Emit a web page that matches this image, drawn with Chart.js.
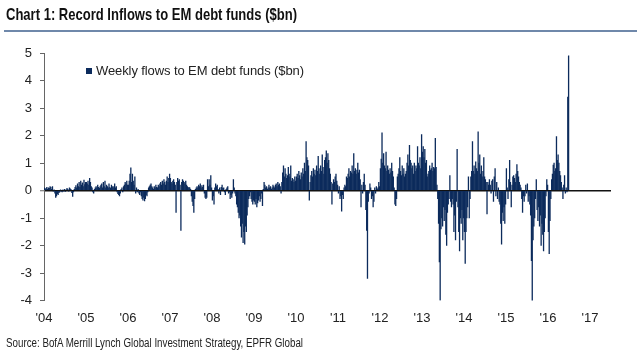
<!DOCTYPE html>
<html><head><meta charset="utf-8">
<script src="https://cdn.jsdelivr.net/npm/chart.js@4.4.1/dist/chart.umd.min.js"></script>
<style>
html,body{margin:0;padding:0;background:#fff;}
#wrap{position:relative;width:640px;height:364px;overflow:hidden;background:#fff;}
canvas{position:absolute;left:0;top:0;}
#title{position:absolute;left:6px;top:5px;font-family:"Liberation Sans",Arial,sans-serif;font-weight:bold;font-size:17px;color:#111;white-space:nowrap;transform-origin:0 0;}
#rule{position:absolute;left:4px;top:30px;width:633px;height:2px;background:#6f88aa;}
#source{position:absolute;left:6px;top:336px;font-family:"Liberation Sans",Arial,sans-serif;font-size:12.5px;color:#222;white-space:nowrap;transform-origin:0 0;}
#legend{position:absolute;left:86px;top:63px;font-family:"Liberation Sans",Arial,sans-serif;font-size:13px;color:#222;white-space:nowrap;letter-spacing:-0.1px;}
#legend span.sw{display:inline-block;width:6px;height:6px;margin-right:4px;vertical-align:1px;}
</style>
</head><body>
<div id="wrap">
<canvas id="c" width="640" height="364"></canvas>
<div id="title">Chart 1: Record Inflows to EM debt funds ($bn)</div>
<div id="rule"></div>
<div id="legend"></div>
<div id="source">Source: BofA Merrill Lynch Global Investment Strategy, EPFR Global</div>
</div>
<script>
// Weekly flows to EM debt funds ($bn), one array per year
const flows2004 = [0.10,0.05,0.08,0.12,0.05,0.10,0.08,0.15,
 0.12,0.05,0.15,-0.03,0.02,-0.10,-0.25,-0.20,
 -0.12,-0.15,-0.08,-0.05,0.02,-0.03,-0.05,0.03,
 -0.02,0.05,-0.04,0.03,0.08,0.05,-0.02,0.10,
 0.06,0.04,-0.08,-0.22,-0.05,0.05,0.12,0.18,
 0.10,0.25,0.15,0.30,0.12,0.35,0.20,0.28,
 0.15,0.38,0.22,0.30];
const flows2005 = [0.30,0.25,0.35,0.20,0.45,0.30,0.15,0.10,
 -0.05,-0.10,0.05,0.10,0.15,0.10,0.20,0.12,
 0.08,0.15,0.20,0.25,0.10,0.30,0.15,0.35,
 0.10,0.20,0.15,0.10,0.25,0.12,0.08,0.20,
 0.15,0.10,0.15,0.25,0.10,0.15,-0.05,-0.12,
 -0.15,-0.20,-0.10,0.05,0.10,-0.05,0.15,0.20,
 0.30,0.25,0.35,0.20];
const flows2006 = [0.20,0.35,0.60,0.83,0.30,0.60,0.35,0.20,
 0.50,-0.10,0.10,-0.05,0.05,-0.10,-0.15,-0.05,
 -0.20,-0.30,-0.35,-0.25,-0.38,-0.30,-0.15,-0.20,
 -0.05,0.10,0.15,0.20,0.25,0.15,0.10,0.05,
 0.15,0.10,0.20,0.12,0.10,0.20,0.15,0.25,
 0.30,0.20,0.35,0.25,0.40,0.30,0.20,0.35,
 0.50,0.30,0.45,0.60];
const flows2007 = [0.45,0.30,0.25,0.35,0.40,0.30,0.20,-0.80,
 0.30,0.45,0.35,0.40,0.20,-1.45,0.30,0.40,
 0.35,0.30,0.25,0.35,0.20,0.15,0.10,0.12,
 0.10,0.05,-0.20,-0.40,-0.55,-0.80,-0.30,0.05,
 0.10,0.15,0.10,0.20,0.15,0.25,0.10,0.18,
 0.12,0.20,-0.10,-0.25,-0.30,-0.25,0.40,0.15,
 0.40,0.20,0.55,0.10];
const flows2008 = [-0.35,-0.20,-0.50,0.10,0.25,0.15,0.20,0.05,
 -0.10,0.10,-0.15,0.12,0.20,0.08,0.10,-0.05,
 -0.15,0.05,0.10,0.15,-0.10,-0.05,-0.30,-0.15,
 -0.25,-0.10,0.40,0.10,-0.10,-0.20,-0.50,-0.60,
 -0.80,-1.00,-0.90,-1.30,-1.70,-1.20,-1.90,-1.50,
 -1.95,-1.30,-1.50,-0.90,-0.60,-0.30,-0.20,-0.05,
 -0.30,-0.40,-0.50,-0.35];
const flows2009 = [-0.40,-0.50,-0.30,-0.60,-0.45,-0.35,-0.20,-0.40,
 -0.30,-0.10,-0.55,0.05,0.30,0.20,0.10,0.15,
 0.05,0.10,0.20,0.10,0.15,0.05,0.10,0.20,
 0.15,0.10,0.20,0.25,0.15,0.30,0.20,0.25,
 0.15,-0.10,0.30,0.65,0.90,0.50,0.80,0.60,
 0.45,0.55,0.85,0.60,0.50,0.90,0.35,0.45,
 0.40,0.30,0.50,0.35];
const flows2010 = [0.50,0.60,0.45,0.70,0.55,0.40,0.65,0.50,
 0.80,0.60,1.00,0.70,1.78,1.20,1.10,0.90,
 -0.35,0.30,0.55,0.70,0.50,0.80,0.60,0.75,
 0.55,0.90,0.70,1.25,0.80,0.60,0.90,0.70,
 1.30,0.85,0.60,1.10,1.20,1.45,1.00,1.35,
 1.10,0.80,0.60,0.30,-0.50,0.25,0.40,0.30,
 0.50,0.60,0.35,0.20];
const flows2011 = [-0.10,0.15,-0.30,-0.20,-0.75,-0.15,-0.30,0.10,
 0.20,0.15,0.50,0.45,0.60,0.80,0.50,0.70,
 0.65,0.90,0.60,1.35,0.70,0.80,0.60,0.75,
 1.00,0.65,0.75,0.40,-0.60,0.20,-0.10,0.30,
 0.60,0.20,-0.70,-1.45,-3.20,-0.40,-0.10,0.25,
 0.10,-0.30,-0.20,-0.60,-0.40,0.10,-0.10,0.15,
 0.05,0.10,0.30,0.15];
const flows2012 = [0.80,1.15,2.10,1.00,1.35,0.90,0.80,1.40,
 0.70,0.90,0.75,0.60,0.80,0.65,1.00,0.70,
 0.50,0.10,-0.50,-0.55,-0.30,0.50,0.60,0.80,
 1.20,0.70,0.55,0.90,0.60,0.80,0.50,0.60,
 0.70,1.00,1.30,0.90,1.65,1.10,1.00,0.80,
 0.90,0.60,1.00,0.70,0.90,0.80,1.60,1.00,
 0.90,1.20,0.80,2.04];
const flows2013 = [1.40,1.60,1.20,1.50,1.00,1.10,0.50,0.60,
 0.70,0.90,0.75,0.80,1.00,0.70,0.85,0.80,
 1.90,0.85,0.20,-0.30,-1.20,-2.60,-4.00,-1.40,
 -1.00,-1.30,-0.60,-1.10,-0.70,-1.60,-2.00,-0.80,
 -0.50,-0.30,0.55,-0.40,-0.60,-0.30,-0.50,-1.50,
 -0.90,-1.80,-0.40,1.50,-0.60,-1.50,-2.20,-1.00,
 -1.20,-0.70,-1.80,-1.00];
const flows2014 = [-1.50,-2.65,-1.50,-1.00,-0.60,0.50,-1.00,-0.30,
 0.50,0.70,1.78,0.70,0.90,0.60,1.05,0.80,
 0.70,2.14,1.00,1.30,0.60,0.90,0.50,0.70,
 1.20,0.50,0.40,0.30,-0.85,0.30,0.20,0.40,
 0.20,-0.10,0.35,0.40,-0.40,0.50,0.80,-0.20,
 0.30,-0.30,0.10,-0.40,-0.50,-1.20,-1.95,-0.80,
 -1.10,-0.60,-1.20,-0.50];
const flows2015 = [0.80,0.10,-0.30,0.40,1.10,0.30,-0.60,0.20,
 0.50,0.55,0.45,0.30,0.60,0.95,0.70,0.50,
 0.30,0.20,0.10,-0.30,-0.80,-0.20,-0.40,-0.20,
 0.20,-0.10,0.25,-0.40,-0.20,-0.50,-0.90,-2.55,
 -4.04,-1.80,-1.30,-1.00,-0.30,0.40,-0.70,-1.10,
 -0.60,-1.30,-0.90,-2.00,-1.20,-1.60,-2.20,-1.50,
 -1.00,-0.20,0.40,0.20];
const flows2016 = [-1.50,-2.30,-1.10,-0.30,0.40,0.60,0.93,1.00,
 0.70,0.80,1.96,1.10,1.30,1.00,0.70,0.55,
 0.30,0.10,-0.30,0.20,0.55,-0.10,0.10,-0.05,
 3.40,4.90];

const years = [2004,2005,2006,2007,2008,2009,2010,2011,2012,2013,2014,2015,2016];
const yearlyFlows = [flows2004,flows2005,flows2006,flows2007,flows2008,flows2009,flows2010,
                     flows2011,flows2012,flows2013,flows2014,flows2015,flows2016];
const tickYears = [2004,2005,2006,2007,2008,2009,2010,2011,2012,2013,2014,2015,2016,2017];
const tickLabels = ["'04","'05","'06","'07","'08","'09","'10","'11","'12","'13","'14","'15","'16","'17"];
const yTicks = [5,4,3,2,1,0,-1,-2,-3,-4];
const seriesLabel = 'Weekly flows to EM debt funds ($bn)';

// build {x: decimal year of week, y: flow}
const points = [];
years.forEach((yr, k) => {
  yearlyFlows[k].forEach((v, w) => points.push({x: yr + (w + 0.5) / 52, y: v}));
});

const NAVY = '#0c2b5c';
const chart = new Chart(document.getElementById('c'), {
  type: 'bar',
  data: { datasets: [{ label: seriesLabel, data: points, backgroundColor: NAVY,
    borderWidth: 0, barPercentage: 1, categoryPercentage: 1, inflateAmount: 0.25 }] },
  options: {
    responsive: false, animation: false, devicePixelRatio: 1,
    layout: { padding: { left: 0, right: 29, top: 53, bottom: 33.5 } },
    plugins: { legend: { display: false }, tooltip: { enabled: false } },
    scales: {
      x: {
        type: 'linear', min: 2004, max: 2017.5, offset: false,
        grid: { display: false, drawTicks: false },
        border: { display: false },
        afterBuildTicks: s => { s.ticks = tickYears.map(v => ({ value: v })); },
        afterFit: s => { s.height = 30; },
        ticks: { padding: 10, maxRotation: 0, autoSkip: false, color: '#222',
          font: { family: '"Liberation Sans", Arial, sans-serif', size: 13 },
          callback: v => tickLabels[tickYears.indexOf(v)] }
      },
      y: {
        min: -4, max: 5,
        afterBuildTicks: s => { s.ticks = yTicks.map(v => ({ value: v })); },
        afterFit: s => { s.width = 44; },
        grid: {
          color: c => (c.tick && c.tick.value === 0) ? '#111' : 'rgba(0,0,0,0)',
          lineWidth: c => (c.tick && c.tick.value === 0) ? 1.5 : 1,
          tickColor: '#666', tickWidth: 1, tickLength: 4, drawTicks: true
        },
        border: { display: true, color: '#666', width: 1 },
        ticks: { padding: 8, color: '#222',
          font: { family: '"Liberation Sans", Arial, sans-serif', size: 13 } }
      }
    }
  }
});

document.getElementById('legend').innerHTML =
  '<span class="sw" style="background:' + NAVY + '"></span>' + chart.data.datasets[0].label;

// squeeze the narrow-font texts to the widths they occupy in the reference
function fitWidth(id, target) {
  const el = document.getElementById(id);
  const w = el.getBoundingClientRect().width;
  if (w > 0) el.style.transform = 'scaleX(' + (target / w) + ')';
}
fitWidth('title', 291);
fitWidth('source', 297);
</script>
</body></html>
